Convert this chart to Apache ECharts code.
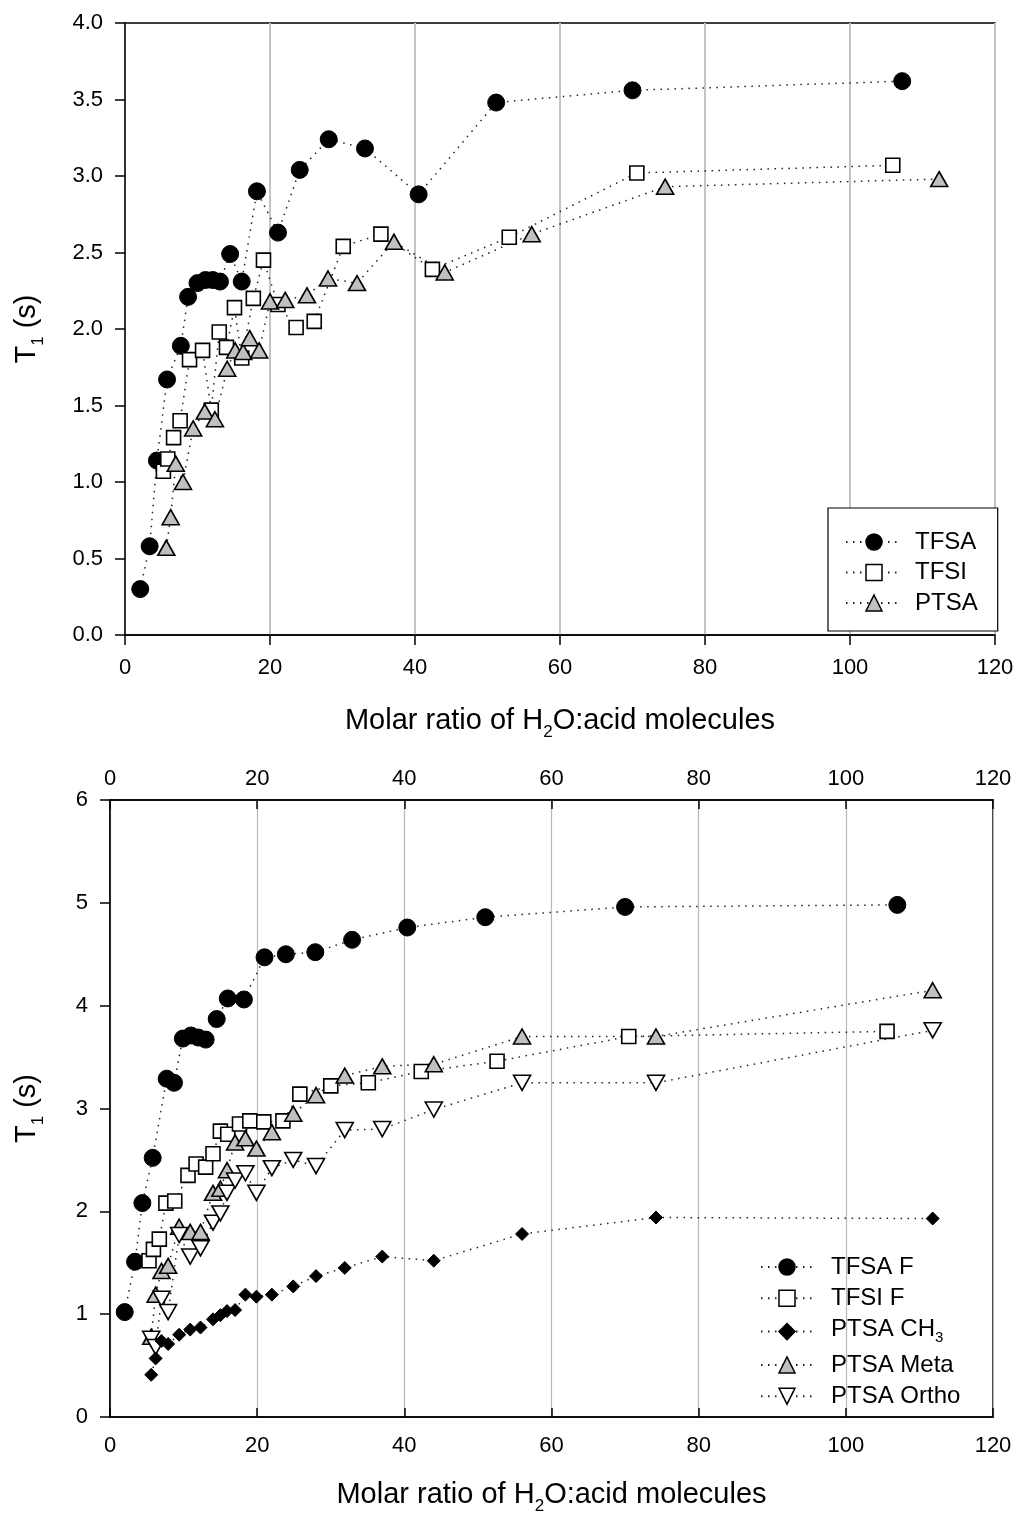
<!DOCTYPE html>
<html><head><meta charset="utf-8">
<script src="https://cdn.jsdelivr.net/npm/echarts@6/dist/echarts.min.js"></script>
<style>html,body{margin:0;padding:0;background:#fff;overflow:hidden}#c{width:1020px;height:1514px}</style>
</head><body><div id="c"></div><script>
// ---------- Top chart data ----------
const tfsaX = [2.1, 3.4, 4.4, 5.8, 7.7, 8.7, 10.0, 11.1, 12.1, 13.1, 14.5, 16.1, 18.2, 21.1, 24.1, 28.1, 33.1, 40.5, 51.2, 70.0, 107.2];
const tfsaY = [0.30, 0.58, 1.14, 1.67, 1.89, 2.21, 2.30, 2.32, 2.32, 2.31, 2.49, 2.31, 2.90, 2.63, 3.04, 3.24, 3.18, 2.88, 3.48, 3.56, 3.62];
const tfsiX = [5.3, 5.9, 6.7, 7.6, 8.9, 10.7, 11.9, 13.0, 14.0, 15.1, 16.1, 17.7, 19.1, 21.1, 23.6, 26.1, 30.1, 35.3, 42.4, 53.0, 70.6, 105.9];
const tfsiY = [1.07, 1.15, 1.29, 1.40, 1.80, 1.86, 1.47, 1.98, 1.88, 2.14, 1.81, 2.20, 2.45, 2.16, 2.01, 2.05, 2.54, 2.62, 2.39, 2.60, 3.02, 3.07];
const ptsaX = [5.7, 6.3, 7.0, 8.0, 9.4, 11.0, 12.4, 14.1, 15.2, 16.3, 17.2, 18.5, 20.0, 22.1, 25.1, 28.0, 32.0, 37.1, 44.1, 56.1, 74.5, 112.3];
const ptsaY = [0.57, 0.77, 1.12, 1.00, 1.35, 1.46, 1.41, 1.74, 1.86, 1.85, 1.94, 1.86, 2.18, 2.19, 2.22, 2.33, 2.30, 2.57, 2.37, 2.62, 2.93, 2.98];

// ---------- Bottom chart data ----------
const tfsaFX = [2.0, 3.4, 4.4, 5.8, 7.7, 8.7, 9.9, 11.0, 12.0, 13.0, 14.5, 16.0, 18.2, 21.0, 23.9, 27.9, 32.9, 40.4, 51.0, 70.0, 107.0];
const tfsaFY = [1.02, 1.51, 2.08, 2.52, 3.29, 3.25, 3.68, 3.71, 3.69, 3.67, 3.87, 4.07, 4.06, 4.47, 4.50, 4.52, 4.64, 4.76, 4.86, 4.96, 4.98];
const tfsiFX = [5.3, 5.9, 6.7, 7.6, 8.8, 10.6, 11.7, 13.0, 14.0, 15.0, 16.0, 17.6, 19.0, 20.9, 23.5, 25.8, 30.0, 35.1, 42.3, 52.6, 70.5, 105.6];
const tfsiFY = [1.52, 1.63, 1.73, 2.08, 2.10, 2.35, 2.46, 2.43, 2.56, 2.78, 2.75, 2.85, 2.88, 2.87, 2.88, 3.14, 3.22, 3.25, 3.36, 3.46, 3.70, 3.75];
const ptsaBX = [5.6, 6.2, 7.0, 7.9, 9.4, 10.9, 12.3, 14.0, 15.0, 15.9, 17.0, 18.4, 19.9, 22.0, 24.9, 28.0, 31.9, 37.0, 44.0, 56.0, 74.2, 111.8];
const ch3Y   = [0.41, 0.57, 0.74, 0.71, 0.80, 0.85, 0.87, 0.95, 0.99, 1.03, 1.04, 1.19, 1.17, 1.19, 1.27, 1.37, 1.45, 1.56, 1.52, 1.78, 1.94, 1.93];
const metaY  = [0.78, 1.19, 1.42, 1.47, 1.85, 1.80, 1.80, 2.18, 2.22, 2.40, 2.67, 2.71, 2.61, 2.77, 2.95, 3.13, 3.32, 3.41, 3.43, 3.70, 3.70, 4.15];
const orthoY = [0.76, 0.68, 1.15, 1.02, 1.77, 1.56, 1.64, 1.89, 1.98, 2.18, 2.30, 2.37, 2.18, 2.42, 2.50, 2.44, 2.79, 2.80, 2.99, 3.25, 3.25, 3.76];

const topLegend = ['TFSA', 'TFSI', 'PTSA'];
const bottomLegend = ['TFSA F', 'TFSI F', 'PTSA CH3', 'PTSA Meta', 'PTSA Ortho'];

const FF = '"Liberation Sans", Arial, Helvetica, sans-serif';
const zip = (xs, ys) => xs.map((x, i) => [x, ys[i]]);

const dotted = { type: [1.5, 5.5], width: 1.5, color: '#222' };
const circleS = { symbol: 'circle', symbolSize: 17, itemStyle: { color: '#000', borderColor: '#000', borderWidth: 1 } };
const squareS = { symbol: 'rect', symbolSize: 14, itemStyle: { color: '#fff', borderColor: '#000', borderWidth: 1.6 } };
const triS = { symbol: 'triangle', symbolSize: [17, 15], itemStyle: { color: '#c0c0c0', borderColor: '#000', borderWidth: 1.6 } };
const diaS = { symbol: 'diamond', symbolSize: 13, itemStyle: { color: '#000', borderColor: '#000', borderWidth: 1 } };
const downS = { symbol: 'triangle', symbolRotate: 180, symbolSize: [17, 15], itemStyle: { color: '#fff', borderColor: '#000', borderWidth: 1.6 } };

function mk(name, data, sty, xi, yi) {
  return Object.assign({ type: 'line', name, data, xAxisIndex: xi, yAxisIndex: yi,
    lineStyle: dotted, showSymbol: true, silent: true, animation: false, z: 3 }, sty);
}

const nameRich = {
  a: { fontSize: 29, fontFamily: FF, color: '#000', verticalAlign: 'top' },
  s: { fontSize: 17, fontFamily: FF, color: '#000', verticalAlign: 'top', padding: [18, 0, 0, 0] }
};
const xName = '{a|Molar ratio of H}{s|2}{a|O:acid molecules}';
const yName = '{a|T}{s|1}{a| (s)}';

const labelStyle = { fontSize: 22, fontFamily: FF, color: '#000' };
const axLine = { show: true, lineStyle: { color: '#000', width: 1.5 } };

function legendFmt(name) {
  if (name === 'PTSA CH3') return '{a|PTSA CH}{s|3}';
  return '{a|' + name + '}';
}
const legendRich = (pad) => ({
  a: { fontSize: 24, fontFamily: FF, color: '#000', verticalAlign: 'top', padding: [0, 0, 0, pad] },
  s: { fontSize: 15, fontFamily: FF, color: '#000', verticalAlign: 'top', padding: [13, 0, 0, 0] }
});

const option = {
  animation: false,
  backgroundColor: '#fff',
  grid: [
    { left: 125, top: 23, width: 870, height: 612, show: true, borderColor: '#000', borderWidth: 1.5, outerBoundsMode: 'none', containLabel: false },
    { left: 110, top: 800, width: 883, height: 617, show: true, borderColor: '#000', borderWidth: 1.5, outerBoundsMode: 'none', containLabel: false }
  ],
  xAxis: [
    { gridIndex: 0, type: 'value', min: 0, max: 120, interval: 20, position: 'bottom',
      axisLine: axLine, axisTick: { show: true, inside: false, length: 10, lineStyle: { color: '#000', width: 1.5 } },
      axisLabel: Object.assign({ margin: 22 }, labelStyle),
      splitLine: { show: true, lineStyle: { color: '#c4c4c4', width: 2 } },
      name: xName, nameLocation: 'middle', nameGap: 71, nameTextStyle: { rich: nameRich } },
    { gridIndex: 1, type: 'value', min: 0, max: 120, interval: 20, position: 'bottom',
      axisLine: axLine, axisTick: { show: true, inside: true, length: 9, lineStyle: { color: '#000', width: 1.5 } },
      axisLabel: Object.assign({ margin: 18 }, labelStyle),
      splitLine: { show: true, lineStyle: { color: '#b8b8b8', width: 1.2 } },
      name: xName, nameLocation: 'middle', nameGap: 63, nameTextStyle: { rich: nameRich } },
    { gridIndex: 1, type: 'value', min: 0, max: 120, interval: 20, position: 'top',
      axisLine: axLine, axisTick: { show: true, inside: true, length: 9, lineStyle: { color: '#000', width: 1.5 } },
      axisLabel: Object.assign({ margin: 10 }, labelStyle),
      splitLine: { show: false } }
  ],
  yAxis: [
    { gridIndex: 0, type: 'value', min: 0, max: 4, interval: 0.5,
      axisLine: axLine, axisTick: { show: true, inside: false, length: 10, lineStyle: { color: '#000', width: 1.5 } },
      axisLabel: Object.assign({ margin: 22, formatter: v => v.toFixed(1) }, labelStyle),
      splitLine: { show: false },
      name: yName, nameLocation: 'middle', nameGap: 78, nameTextStyle: { rich: nameRich } },
    { gridIndex: 1, type: 'value', min: 0, max: 6, interval: 1,
      axisLine: axLine, axisTick: { show: true, inside: false, length: 10, lineStyle: { color: '#000', width: 1.5 } },
      axisLabel: Object.assign({ margin: 22 }, labelStyle),
      splitLine: { show: false },
      name: yName, nameLocation: 'middle', nameGap: 63, nameTextStyle: { rich: nameRich } }
  ],
  legend: [
    { left: 828, top: 508, orient: 'vertical', data: topLegend, selectedMode: false,
      itemWidth: 56, itemHeight: 20, itemGap: 6.5, padding: [22, 20, 16, 17],
      borderColor: '#000', borderWidth: 1.2, backgroundColor: '#fff',
      itemStyle: { borderWidth: 1.5 },
      formatter: legendFmt, textStyle: { rich: legendRich(8) } },
    { left: 760, top: 1255, orient: 'vertical', data: bottomLegend, selectedMode: false,
      itemWidth: 52, itemHeight: 20, itemGap: 7.3, padding: 0,
      itemStyle: { borderWidth: 1.5 },
      formatter: legendFmt, textStyle: { rich: legendRich(13) } }
  ],
  series: [
    mk('TFSA', zip(tfsaX, tfsaY), circleS, 0, 0),
    mk('TFSI', zip(tfsiX, tfsiY), squareS, 0, 0),
    mk('PTSA', zip(ptsaX, ptsaY), triS, 0, 0),
    mk('TFSA F', zip(tfsaFX, tfsaFY), circleS, 1, 1),
    mk('TFSI F', zip(tfsiFX, tfsiFY), squareS, 1, 1),
    mk('PTSA Meta', zip(ptsaBX, metaY), triS, 1, 1),
    mk('PTSA Ortho', zip(ptsaBX, orthoY), downS, 1, 1),
    mk('PTSA CH3', zip(ptsaBX, ch3Y), diaS, 1, 1)
  ]
};

const chart = echarts.init(document.getElementById('c'), null, { renderer: 'canvas', width: 1020, height: 1514 });
chart.setOption(option);
</script></body></html>
